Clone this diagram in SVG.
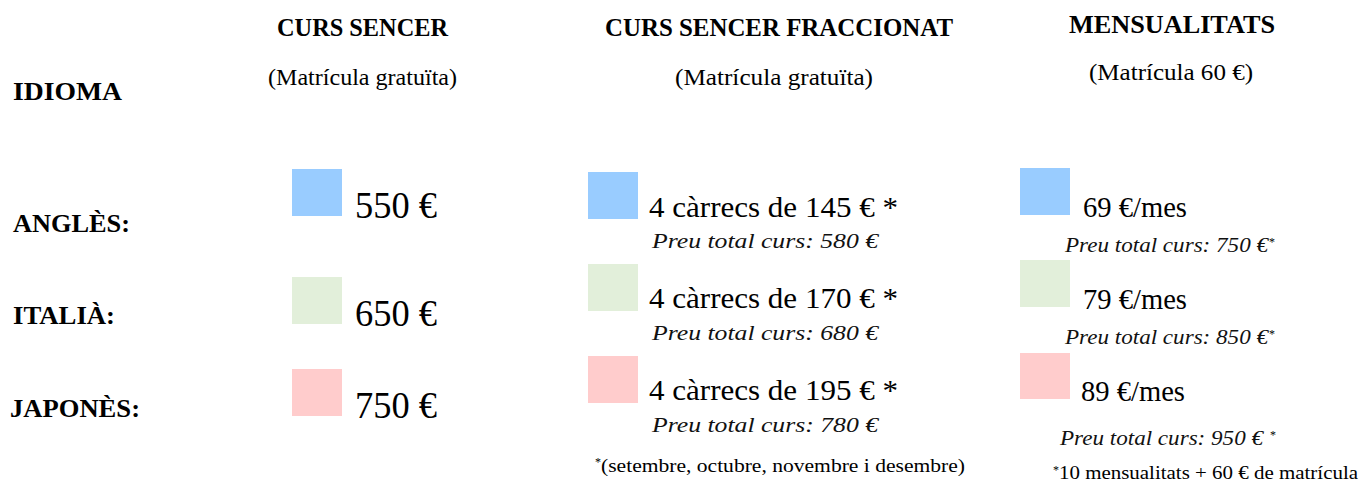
<svg xmlns="http://www.w3.org/2000/svg" width="1362" height="482" viewBox="0 0 1362 482">
<style>
text{font-family:"Liberation Serif","DejaVu Serif",serif;fill:#000}
.h{font-weight:bold;font-size:25px}
.sub{font-size:24px}
.lab{font-weight:bold;font-size:25px}
.big{font-size:38px}
.mid{font-size:29px}
.it{font-style:italic;font-size:22px;fill:#111}
.fn{font-size:19px}
.sup{font-size:12px}
.blue{fill:#99CCFF}
.green{fill:#E2EFDA}
.pink{fill:#FFCCCC}
</style>
<rect width="1362" height="482" fill="#fff"/>
<g id="headers">
<text class="h" x="13" y="100" textLength="109" lengthAdjust="spacingAndGlyphs">IDIOMA</text>
<text class="h" x="277" y="36" textLength="171" lengthAdjust="spacingAndGlyphs">CURS SENCER</text>
<text class="sub" x="268" y="85" textLength="189" lengthAdjust="spacingAndGlyphs">(Matrícula gratuïta)</text>
<text class="h" x="605" y="36" textLength="348" lengthAdjust="spacingAndGlyphs">CURS SENCER FRACCIONAT</text>
<text class="sub" x="675" y="85" textLength="198" lengthAdjust="spacingAndGlyphs">(Matrícula gratuïta)</text>
<text class="h" x="1069" y="33" textLength="206" lengthAdjust="spacingAndGlyphs">MENSUALITATS</text>
<text class="sub" x="1089" y="80" textLength="164" lengthAdjust="spacingAndGlyphs">(Matrícula 60 €)</text>
</g>
<g id="labels">
<text class="lab" x="13" y="232" textLength="117" lengthAdjust="spacingAndGlyphs">ANGLÈS:</text>
<text class="lab" x="13" y="324" textLength="102" lengthAdjust="spacingAndGlyphs">ITALIÀ:</text>
<text class="lab" x="10" y="417" textLength="130" lengthAdjust="spacingAndGlyphs">JAPONÈS:</text>
</g>
<g id="col1">
<rect class="blue" x="292" y="169" width="50" height="47"/>
<text class="big" x="355" y="218" textLength="82" lengthAdjust="spacingAndGlyphs">550 €</text>
<rect class="green" x="292" y="277" width="50" height="47"/>
<text class="big" x="355" y="326" textLength="82" lengthAdjust="spacingAndGlyphs">650 €</text>
<rect class="pink" x="292" y="369" width="50" height="47"/>
<text class="big" x="355" y="418" textLength="82" lengthAdjust="spacingAndGlyphs">750 €</text>
</g>
<g id="col2">
<rect class="blue" x="588" y="172" width="50" height="47"/>
<text class="mid" x="649" y="217" textLength="249" lengthAdjust="spacingAndGlyphs">4 càrrecs de 145 € *</text>
<text class="it" x="652" y="248" textLength="226" lengthAdjust="spacingAndGlyphs">Preu total curs: 580 €</text>
<rect class="green" x="588" y="264" width="50" height="47"/>
<text class="mid" x="649" y="308" textLength="249" lengthAdjust="spacingAndGlyphs">4 càrrecs de 170 € *</text>
<text class="it" x="652" y="340" textLength="226" lengthAdjust="spacingAndGlyphs">Preu total curs: 680 €</text>
<rect class="pink" x="588" y="356" width="50" height="47"/>
<text class="mid" x="649" y="400" textLength="249" lengthAdjust="spacingAndGlyphs">4 càrrecs de 195 € *</text>
<text class="it" x="652" y="432" textLength="226" lengthAdjust="spacingAndGlyphs">Preu total curs: 780 €</text>
<text class="sup" x="595" y="466">*</text>
<text class="fn" x="601" y="472" textLength="364" lengthAdjust="spacingAndGlyphs">(setembre, octubre, novembre i desembre)</text>
</g>
<g id="col3">
<rect class="blue" x="1020" y="168" width="50" height="47"/>
<text class="mid" x="1083" y="217" textLength="104" lengthAdjust="spacingAndGlyphs">69 €/mes</text>
<text class="it" x="1065" y="252" textLength="203" lengthAdjust="spacingAndGlyphs">Preu total curs: 750 €</text>
<text class="sup" x="1269" y="246">*</text>
<rect class="green" x="1020" y="260" width="50" height="47"/>
<text class="mid" x="1083" y="309" textLength="104" lengthAdjust="spacingAndGlyphs">79 €/mes</text>
<text class="it" x="1065" y="344" textLength="203" lengthAdjust="spacingAndGlyphs">Preu total curs: 850 €</text>
<text class="sup" x="1269" y="338">*</text>
<rect class="pink" x="1020" y="353" width="50" height="46"/>
<text class="mid" x="1081" y="401" textLength="104" lengthAdjust="spacingAndGlyphs">89 €/mes</text>
<text class="it" x="1060" y="445" textLength="203" lengthAdjust="spacingAndGlyphs">Preu total curs: 950 €</text>
<text class="sup" x="1270" y="439">*</text>
<text class="sup" x="1053" y="474">*</text>
<text class="fn" x="1059" y="479" textLength="299" lengthAdjust="spacingAndGlyphs">10 mensualitats + 60 € de matrícula</text>
</g>
</svg>
